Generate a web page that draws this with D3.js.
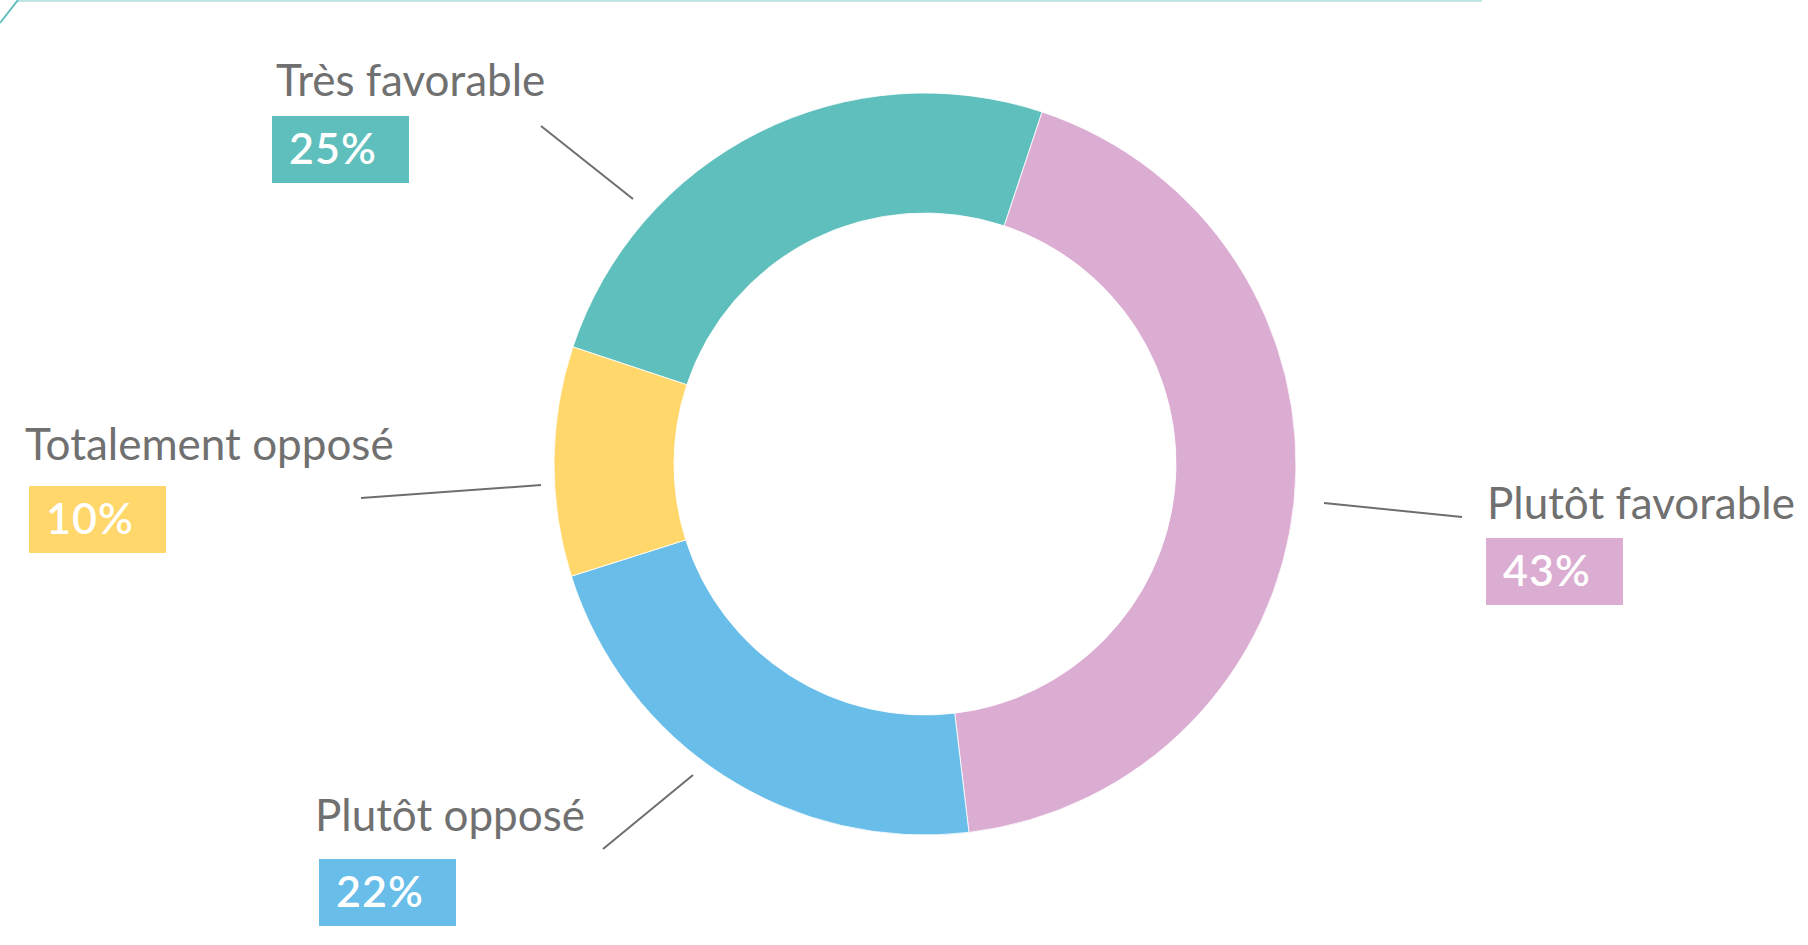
<!DOCTYPE html>
<html lang="fr">
<head>
    <meta charset="utf-8">
    <title>Avis</title>
    <script src="https://d3js.org/d3.v7.min.js" charset="utf-8"></script>
    <style type="text/css">
    	body {
    		margin: 0;
    		padding: 0;
    		background-color: #ffffff;
    	}
    	svg {
    		display: block;
    	}
    	.label {
    		font-family: Lato, "Open Sans", sans-serif;
    		fill: #707070;
    	}
    	.pct {
    		font-family: Lato, "Open Sans", sans-serif;
    		font-weight: 600;
    		fill: #ffffff;
    	}
    </style>
</head>
<body>
    <script type="text/javascript">
	// data
	var categories = ["Très favorable", "Plutôt favorable", "Plutôt opposé", "Totalement opposé"];
	var values = [25, 43, 22, 10];
	var colors = ["#5fbfbd", "#dcadd2", "#69bde9", "#ffd76b"];

	// label placement (text x, text baseline, box x, box y) + leader line
	var labelPos = [
		{tx: 276, ty: 96, bx: 272, by: 116, lx1: 541, ly1: 126, lx2: 633, ly2: 199},
		{tx: 1487, ty: 519, bx: 1486, by: 538, lx1: 1324, ly1: 503, lx2: 1462, ly2: 517},
		{tx: 315, ty: 831, bx: 319, by: 859, lx1: 603, ly1: 849, lx2: 693, ly2: 775},
		{tx: 25, ty: 460, bx: 29, by: 486, lx1: 361, ly1: 498, lx2: 541, ly2: 485}
	];

	var width = 1808,
	height = 945,
	cx = 925,
	cy = 464,
	outerR = 371,
	innerR = 251;

	var svg = d3.select("body")
				.append("svg")
				.attr("width", width)
				.attr("height", height);

	// thin frame corner at the top
	svg.append("line")
		.attr("x1", 18).attr("y1", 1)
		.attr("x2", 1482).attr("y2", 1)
		.attr("stroke", "#bfe5e4")
		.attr("stroke-width", 2);
	svg.append("line")
		.attr("x1", 18).attr("y1", 0)
		.attr("x2", 0).attr("y2", 23)
		.attr("stroke", "#5fbfbd")
		.attr("stroke-width", 2);

	var data = categories.map(function(c, i){
		return {name: c, value: values[i], color: colors[i]};
	});

	var pie = d3.pie()
		.sort(null)
		.value(function(d){ return d.value; })
		.startAngle(-71.6 * Math.PI / 180)
		.endAngle((360 - 71.6) * Math.PI / 180);

	var arc = d3.arc()
		.innerRadius(innerR)
		.outerRadius(outerR);

	var g = svg.append("g")
		.attr("transform", "translate(" + cx + "," + cy + ")");

	g.selectAll("path")
	   .data(pie(data))
	   .enter()
	   .append("path")
	   .attr("d", arc)
	   .attr("fill", function(d){ return d.data.color; })
	   .attr("stroke", "#ffffff")
	   .attr("stroke-width", 0.8);

	// leader lines
	svg.selectAll("line.leader")
	   .data(labelPos)
	   .enter()
	   .append("line")
	   .attr("class", "leader")
	   .attr("x1", function(d){ return d.lx1; })
	   .attr("y1", function(d){ return d.ly1; })
	   .attr("x2", function(d){ return d.lx2; })
	   .attr("y2", function(d){ return d.ly2; })
	   .attr("stroke", "#6e6e6e")
	   .attr("stroke-width", 2);

	// category names
	svg.selectAll("text.label")
	   .data(data)
	   .enter()
	   .append("text")
	   .attr("class", "label")
	   .attr("x", function(d, i){ return labelPos[i].tx; })
	   .attr("y", function(d, i){ return labelPos[i].ty; })
	   .attr("font-size", "44px")
	   .text(function(d){ return d.name; });

	// percent boxes
	svg.selectAll("rect.box")
	   .data(data)
	   .enter()
	   .append("rect")
	   .attr("class", "box")
	   .attr("x", function(d, i){ return labelPos[i].bx; })
	   .attr("y", function(d, i){ return labelPos[i].by; })
	   .attr("width", 137)
	   .attr("height", 67)
	   .attr("fill", function(d){ return d.color; });

	svg.selectAll("text.pct")
	   .data(data)
	   .enter()
	   .append("text")
	   .attr("class", "pct")
	   .attr("x", function(d, i){ return labelPos[i].bx + 17; })
	   .attr("y", function(d, i){ return labelPos[i].by + 48; })
	   .attr("font-size", "43px")
	   .attr("letter-spacing", "1px")
	   .text(function(d){ return d.value + "%"; });

    </script>
</body>
</html>
